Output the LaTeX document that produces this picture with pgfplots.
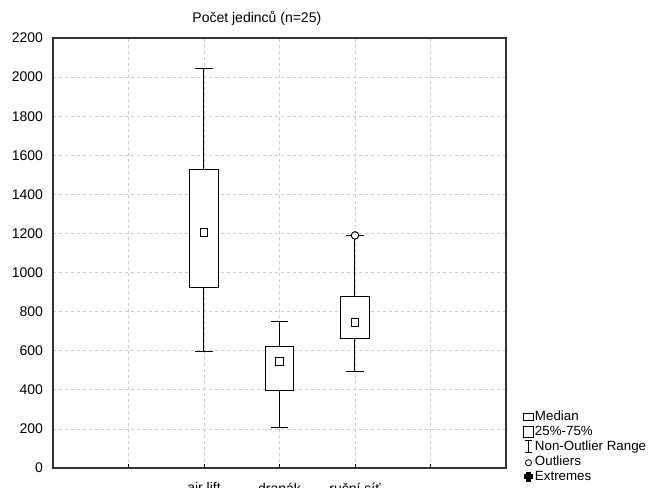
\documentclass[border=0pt]{standalone}
\usepackage{fontspec}
\setmainfont{Liberation Sans}
\usepackage{pgfplots}
\pgfplotsset{compat=1.18}
\usepgfplotslibrary{statistics}
\begin{document}
\begin{tikzpicture}[font=\fontsize{10.5}{12.5}\selectfont]
\begin{axis}[
  at={(0,0)}, anchor=south west,
  scale only axis, width=339.75pt, height=322.5pt,
  xmin=0, xmax=6, ymin=0, ymax=2200,
  xtick={1,2,3,4,5}, xticklabels={,air lift,drapák,ruční síť,},
  ytick={0,200,...,2200},
  /pgf/number format/assume math mode=true,
  /pgf/number format/1000 sep={},
  tick label style={font=\fontsize{10.5}{12.5}\selectfont},
  yticklabel style={xshift=-4pt},
  xticklabel style={yshift=-7.5pt},
  xtick pos=bottom, ytick pos=left,
  tick align=inside, major tick length=3pt,
  xtick style={black, line width=0.6pt},
  ytick style={draw=none},
  grid=major,
  grid style={dash pattern=on 2.5pt off 2pt, gray!40, line width=0.6pt},
  axis line style={black!80, line width=1pt},
  title={Počet jedinců (n=25)},
  title style={at={(axis description cs:0.45,1)}, anchor=center, yshift=9pt, font=\fontsize{10.5}{12.5}\selectfont},
  boxplot/draw direction=y,
  boxplot/draw/median/.code={},
  boxplot/every box/.style={fill=white, draw=black},
  legend style={at={(rel axis cs:1.0375,0.138)}, anchor=north west, draw=none, fill=none,
    font=\fontsize{10}{12}\selectfont, inner sep=0pt, row sep=0pt,
    nodes={text height=7.5pt, text depth=2pt, inner sep=0.9pt}},
  legend cell align=left,
]
\addplot[forget plot, black, line width=0.75pt, boxplot prepared={draw position=2,
  median=1205, upper quartile=1528, lower quartile=923,
  upper whisker=2046, lower whisker=595, box extend=0.38, whisker extend=0.23}]
  coordinates {};
\addplot[forget plot, black, line width=0.75pt, boxplot prepared={draw position=3,
  median=544, upper quartile=622, lower quartile=395,
  upper whisker=752, lower whisker=208, box extend=0.38, whisker extend=0.23}]
  coordinates {};
\addplot[forget plot, black, line width=0.75pt, boxplot prepared={draw position=4,
  median=745, upper quartile=880, lower quartile=665,
  upper whisker=1188, lower whisker=494, box extend=0.38, whisker extend=0.23}]
  coordinates {};
% medians
\addplot[forget plot, only marks, mark=square*, mark size=2.9pt,
  mark options={fill=white, draw=black, line width=0.75pt}]
  coordinates {(2,1205) (3,544) (4,745)};
% outlier
\addplot[forget plot, only marks, mark=*, mark size=2.8pt,
  mark options={fill=white, draw=black, line width=0.75pt}]
  coordinates {(4,1190)};
% legend
\addlegendimage{legend image code/.code={\draw[black,line width=0.6pt,fill=white] (0pt,-2.8pt) rectangle (7.3pt,2.3pt);}}
\addlegendentry{Median}
\addlegendimage{legend image code/.code={\draw[black,line width=0.6pt,fill=white] (0pt,-4.2pt) rectangle (7.3pt,4pt);}}
\addlegendentry{25\%-75\%}
\addlegendimage{legend image code/.code={\draw[black,line width=0.6pt] (0.8pt,-4.5pt) -- (6.5pt,-4.5pt) (3.65pt,-4.5pt) -- (3.65pt,4.5pt) (0.8pt,4.5pt) -- (6.5pt,4.5pt);}}
\addlegendentry{Non-Outlier Range}
\addlegendimage{legend image code/.code={\draw[black,line width=0.6pt,fill=white] (3.65pt,-0.8pt) circle (2.3pt);}}
\addlegendentry{Outliers}
\addlegendimage{legend image code/.code={\fill[black] (2.2pt,-3.2pt) rectangle (5.1pt,3.2pt) (0.5pt,-1.5pt) rectangle (6.8pt,1.5pt);}}
\addlegendentry{Extremes}
\end{axis}
\pgfresetboundingbox
\useasboundingbox (-39.75pt,-14.25pt) rectangle (447.75pt,351pt);
\end{tikzpicture}
\end{document}
